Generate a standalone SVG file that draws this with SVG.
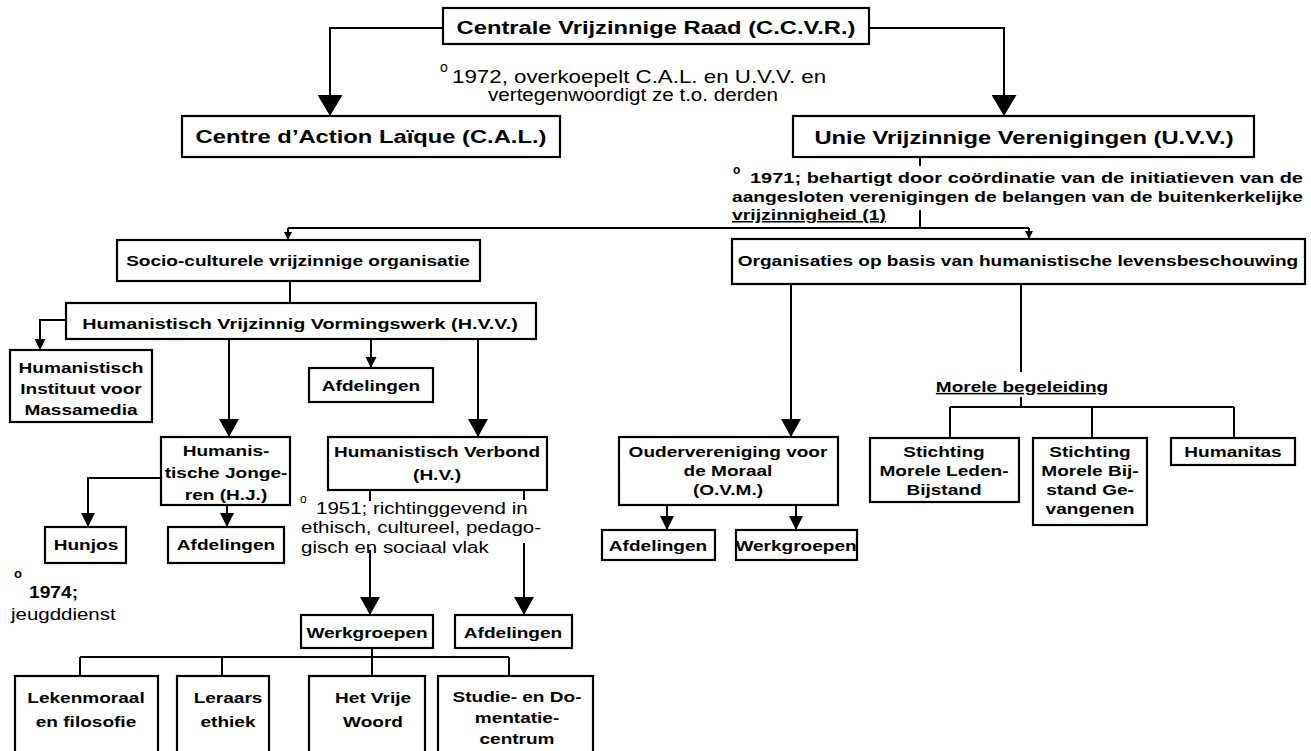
<svg xmlns="http://www.w3.org/2000/svg" width="1311" height="751" viewBox="0 0 1311 751">
<defs>
<style>
.box{fill:#fff;stroke:#000;stroke-width:2.2}
.ln{fill:none;stroke:#000;stroke-width:2}
.b15{font-family:"Liberation Sans",Arial,sans-serif;font-weight:bold;font-size:15px;fill:#000;text-anchor:middle}
.b18{font-family:"Liberation Sans",Arial,sans-serif;font-weight:bold;font-size:18px;fill:#000;text-anchor:middle}
.n15{font-family:"Liberation Sans",Arial,sans-serif;font-weight:bold;font-size:15px;fill:#000}
.r18{font-family:"Liberation Sans",Arial,sans-serif;font-size:18px;fill:#000}
.r16{font-family:"Liberation Sans",Arial,sans-serif;font-size:16px;fill:#000}
.deg{font-family:"Liberation Sans",Arial,sans-serif;font-weight:bold;font-size:12px;fill:#000}
</style>
<marker id="mB" markerUnits="userSpaceOnUse" markerWidth="21" markerHeight="25" refX="21" refY="12.5" orient="auto" viewBox="0 0 21 25"><path d="M0,0 L21,12.5 L0,25 Z" fill="#000"/></marker>
<marker id="mL" markerUnits="userSpaceOnUse" markerWidth="18" markerHeight="20" refX="18" refY="10" orient="auto" viewBox="0 0 18 20"><path d="M0,0 L18,10 L0,20 Z" fill="#000"/></marker>
<marker id="mM" markerUnits="userSpaceOnUse" markerWidth="14" markerHeight="14" refX="14" refY="7" orient="auto" viewBox="0 0 14 14"><path d="M0,0 L14,7 L0,14 Z" fill="#000"/></marker>
<marker id="mS" markerUnits="userSpaceOnUse" markerWidth="11" markerHeight="11" refX="11" refY="5.5" orient="auto" viewBox="0 0 11 11"><path d="M0,0 L11,5.5 L0,11 Z" fill="#000"/></marker>
<marker id="mX" markerUnits="userSpaceOnUse" markerWidth="8" markerHeight="8" refX="8" refY="4" orient="auto" viewBox="0 0 8 8"><path d="M0,0 L8,4 L0,8 Z" fill="#000"/></marker>
</defs>
<rect width="1311" height="751" fill="#fff"/>
<g id="connectors">
<path class="ln" d="M443,28 H330 V116" marker-end="url(#mB)"/>
<path class="ln" d="M869,28 H1004 V116" marker-end="url(#mB)"/>
<path class="ln" d="M920,157 V166 M920,210 V228"/>
<path class="ln" d="M288,228 H1029"/>
<path class="ln" d="M288,228 V240" marker-end="url(#mX)"/>
<path class="ln" d="M1029,228 V239" marker-end="url(#mX)"/>
<path class="ln" d="M290,281 V303"/>
<path class="ln" d="M66,320 H40 V350" marker-end="url(#mS)"/>
<path class="ln" d="M229,339 V437" marker-end="url(#mL)"/>
<path class="ln" d="M371,339 V368" marker-end="url(#mS)"/>
<path class="ln" d="M478,339 V437" marker-end="url(#mL)"/>
<path class="ln" d="M791,284 V437" marker-end="url(#mL)"/>
<path class="ln" d="M1021,284 V372"/>
<path class="ln" d="M1021,397 V407 M950,407 H1234 M950,407 V438 M1092,407 V438 M1234,407 V438"/>
<path class="ln" d="M161,478 H88 V527" marker-end="url(#mM)"/>
<path class="ln" d="M227,505 V527" marker-end="url(#mM)"/>
<path class="ln" d="M370,490 V501 M524,490 V500"/>
<path class="ln" d="M370,550 V615" marker-end="url(#mL)"/>
<path class="ln" d="M524,543 V615" marker-end="url(#mL)"/>
<path class="ln" d="M667,505 V530" marker-end="url(#mM)"/>
<path class="ln" d="M796,505 V530" marker-end="url(#mM)"/>
<path class="ln" d="M372,648 V657 M80,657 H509 M80,657 V676 M222,657 V676 M372,657 V676 M509,657 V676"/>
</g>
<g id="ccvr"><rect class="box" x="443" y="8" width="426" height="36"/><text class="b18" transform="translate(656,34) scale(1.32,1)">Centrale Vrijzinnige Raad (C.C.V.R.)</text></g>
<g id="note1972"><text class="deg" x="440" y="72" style="font-weight:normal;font-size:14px">o</text><text class="r18" transform="translate(452,83) scale(1.24,1)">1972, overkoepelt C.A.L. en U.V.V. en</text><text class="r18" x="488" y="101" textLength="290" lengthAdjust="spacingAndGlyphs">vertegenwoordigt ze t.o. derden</text></g>
<g id="cal"><rect class="box" x="182" y="116" width="378" height="41"/><text class="b18" transform="translate(371,143) scale(1.32,1)">Centre d’Action Laïque (C.A.L.)</text></g>
<g id="uvv"><rect class="box" x="793" y="116" width="461" height="41"/><text class="b18" transform="translate(1024,144) scale(1.32,1)">Unie Vrijzinnige Verenigingen (U.V.V.)</text></g>
<g id="note1971"><text class="deg" x="733" y="174">o</text><text class="n15" x="750" y="183" textLength="553" lengthAdjust="spacingAndGlyphs">1971; behartigt door coördinatie van de initiatieven van de</text><text class="n15" x="732" y="202" textLength="571" lengthAdjust="spacingAndGlyphs">aangesloten verenigingen de belangen van de buitenkerkelijke</text><text class="n15" x="732" y="220" textLength="154" lengthAdjust="spacingAndGlyphs" text-decoration="underline">vrijzinnigheid (1)</text></g>
<g id="socio"><rect class="box" x="117" y="240" width="363" height="41"/><text class="b15" transform="translate(298,266) scale(1.27,1)">Socio-culturele vrijzinnige organisatie</text></g>
<g id="org"><rect class="box" x="732" y="239" width="573" height="45"/><text class="b15" transform="translate(1018,266) scale(1.27,1)">Organisaties op basis van humanistische levensbeschouwing</text></g>
<g id="hvv"><rect class="box" x="66" y="303" width="470" height="36"/><text class="b15" transform="translate(300,329) scale(1.32,1)">Humanistisch Vrijzinnig Vormingswerk (H.V.V.)</text></g>
<g id="him"><rect class="box" x="10" y="350" width="142" height="72"/><text class="b15" transform="translate(81,373) scale(1.27,1)">Humanistisch</text><text class="b15" transform="translate(81,394) scale(1.27,1)">Instituut voor</text><text class="b15" transform="translate(81,415) scale(1.27,1)">Massamedia</text></g>
<g id="afd1"><rect class="box" x="309" y="368" width="124" height="34"/><text class="b15" transform="translate(371,391) scale(1.27,1)">Afdelingen</text></g>
<g id="hj"><rect class="box" x="161" y="437" width="129" height="68"/><text class="b15" transform="translate(226,456) scale(1.27,1)">Humanis-</text><text class="b15" transform="translate(226,478) scale(1.27,1)">tische Jonge-</text><text class="b15" transform="translate(226,500) scale(1.27,1)">ren (H.J.)</text></g>
<g id="hv"><rect class="box" x="328" y="437" width="219" height="53"/><text class="b15" transform="translate(437,457) scale(1.27,1)">Humanistisch Verbond</text><text class="b15" transform="translate(437,480) scale(1.27,1)">(H.V.)</text></g>
<g id="note1951"><text class="deg" x="300" y="503" style="font-weight:normal">o</text><text class="r16" transform="translate(316,514) scale(1.28,1)">1951; richtinggevend in</text><text class="r16" transform="translate(301,533) scale(1.28,1)">ethisch, cultureel, pedago-</text><text class="r16" transform="translate(301,553) scale(1.28,1)">gisch en sociaal vlak</text></g>
<g id="hunjos"><rect class="box" x="45" y="527" width="81" height="36"/><text class="b15" transform="translate(86,550) scale(1.27,1)">Hunjos</text></g>
<g id="afd2"><rect class="box" x="168" y="527" width="116" height="36"/><text class="b15" transform="translate(226,550) scale(1.27,1)">Afdelingen</text></g>
<g id="note1974"><text class="deg" x="14" y="578" style="font-size:13px">o</text><text class="r16" style="font-weight:bold" transform="translate(29,598) scale(1.2,1)">1974;</text><text class="r16" transform="translate(11,620) scale(1.28,1)">jeugddienst</text></g>
<g id="werk1"><rect class="box" x="301" y="615" width="132" height="33"/><text class="b15" transform="translate(367,638) scale(1.27,1)">Werkgroepen</text></g>
<g id="afd3"><rect class="box" x="455" y="615" width="117" height="33"/><text class="b15" transform="translate(513,638) scale(1.27,1)">Afdelingen</text></g>
<g id="leken"><rect class="box" x="15" y="676" width="143" height="84"/><text class="b15" transform="translate(86,703) scale(1.27,1)">Lekenmoraal</text><text class="b15" transform="translate(86,727) scale(1.27,1)">en filosofie</text></g>
<g id="leraars"><rect class="box" x="177" y="676" width="92" height="84"/><text class="b15" transform="translate(228,703) scale(1.27,1)">Leraars</text><text class="b15" transform="translate(228,727) scale(1.27,1)">ethiek</text></g>
<g id="hvw"><rect class="box" x="309" y="676" width="116" height="84"/><text class="b15" transform="translate(373,703) scale(1.27,1)">Het Vrije</text><text class="b15" transform="translate(373,727) scale(1.27,1)">Woord</text></g>
<g id="studie"><rect class="box" x="438" y="676" width="155" height="84"/><text class="b15" transform="translate(517,702) scale(1.27,1)">Studie- en Do-</text><text class="b15" transform="translate(517,723) scale(1.27,1)">mentatie-</text><text class="b15" transform="translate(517,744) scale(1.27,1)">centrum</text></g>
<g id="ovm"><rect class="box" x="619" y="437" width="219" height="68"/><text class="b15" transform="translate(728,457) scale(1.27,1)">Oudervereniging voor</text><text class="b15" transform="translate(728,476) scale(1.27,1)">de Moraal</text><text class="b15" transform="translate(728,495) scale(1.27,1)">(O.V.M.)</text></g>
<g id="afd4"><rect class="box" x="602" y="530" width="113" height="30"/><text class="b15" transform="translate(658,551) scale(1.27,1)">Afdelingen</text></g>
<g id="werk2"><rect class="box" x="736" y="530" width="121" height="30"/><text class="b15" transform="translate(796,551) scale(1.27,1)">Werkgroepen</text></g>
<g id="morele"><text class="b15" transform="translate(1022,392) scale(1.27,1)" text-decoration="underline">Morele begeleiding</text></g>
<g id="sml"><rect class="box" x="870" y="438" width="149" height="64"/><text class="b15" transform="translate(944,457) scale(1.27,1)">Stichting</text><text class="b15" transform="translate(944,476) scale(1.27,1)">Morele Leden-</text><text class="b15" transform="translate(944,495) scale(1.27,1)">Bijstand</text></g>
<g id="smb"><rect class="box" x="1033" y="438" width="114" height="87"/><text class="b15" transform="translate(1090,457) scale(1.27,1)">Stichting</text><text class="b15" transform="translate(1090,476) scale(1.27,1)">Morele Bij-</text><text class="b15" transform="translate(1090,495) scale(1.27,1)">stand Ge-</text><text class="b15" transform="translate(1090,514) scale(1.27,1)">vangenen</text></g>
<g id="humanitas"><rect class="box" x="1171" y="438" width="124" height="27"/><text class="b15" transform="translate(1233,457) scale(1.27,1)">Humanitas</text></g>
</svg>
